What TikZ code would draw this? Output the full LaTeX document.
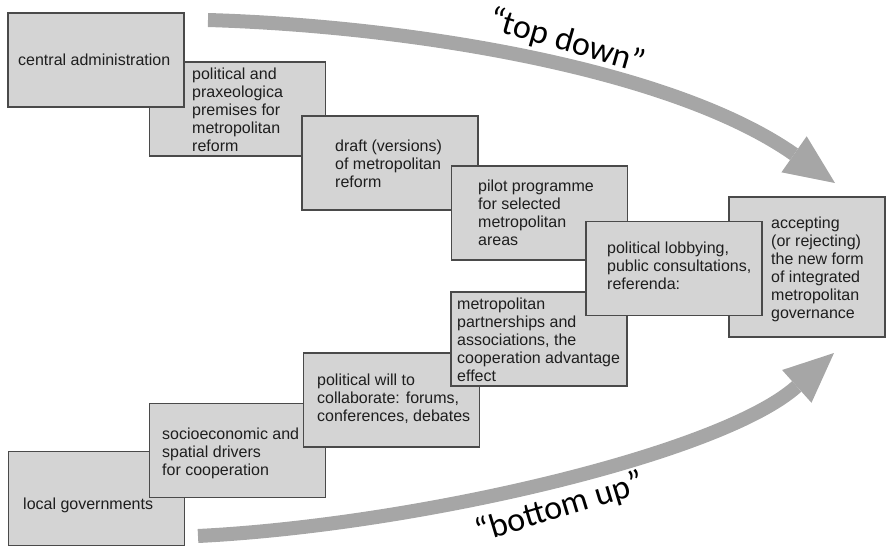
\documentclass[tikz,border=0pt]{standalone}
\usepackage{fontspec}
\setmainfont{Liberation Sans}
\newfontfamily\bigfont{Carlito}
\usetikzlibrary{arrows.meta}
\definecolor{boxfill}{HTML}{D4D4D4}
\definecolor{boxline}{HTML}{4A4A4A}
\definecolor{bandgray}{HTML}{A6A6A6}
\definecolor{txtcol}{HTML}{1E1E1E}
\tikzset{
  stepbox/.style={draw=boxline, fill=boxfill, line width=1.2pt, inner sep=0pt,
    minimum width=176pt, minimum height=94pt},
  txt/.style={anchor=west, align=left, inner sep=0pt, text=txtcol,
    font=\fontsize{16pt}{18pt}\selectfont},
  bigtxt/.style={inner sep=0pt, text=black, font=\bigfont\fontsize{34pt}{36pt}\selectfont},
  band/.style={draw=bandgray, line width=14pt,
    -{Triangle[length=50pt,width=44pt,line width=0pt]}, bandgray}
}
\begin{document}
\begin{tikzpicture}[x=1pt,y=-1pt]
\useasboundingbox (0,0) rectangle (887,546);

% top-down chain
\node[stepbox] (b2) at (237.5,109) {};
\node[txt] (t2) at (192,110) {political and\\praxeologica\\premises for\\metropolitan\\reform};
\node[stepbox] (b1) at (96,60) {};
\node[txt] (t1) at (18,60) {central administration};
\node[stepbox] (b3) at (390,163) {};
\node[txt] (t3) at (335,164) {draft (versions)\\of metropolitan\\reform};
\node[stepbox] (b4) at (539.5,213) {};
\node[txt] (t4) at (478,212.5) {pilot programme\\for selected\\metropolitan\\areas};

% bottom-up chain
\node[stepbox] (b10) at (96.5,498.5) {};
\node[txt] (t10) at (23,505) {local governments};
\node[stepbox] (b9) at (237.5,450.5) {};
\node[txt] (t9) at (162,453) {socioeconomic and\\spatial drivers\\for cooperation};
\node[stepbox] (b8) at (391.5,400) {};
\node[txt] (t8) at (317,398.5) {political will to\\collaborate: forums,\\conferences, debates};
\node[stepbox] (b7) at (539,339) {};
\node[txt] (t7) at (457,339.5) {metropolitan\\partnerships and\\associations, the\\cooperation advantage\\effect};

% goal
\node[stepbox, minimum width=156pt, minimum height=140pt] (b6) at (807,267) {};
\node[txt] (t6) at (771,269) {accepting\\(or rejecting)\\the new form\\of integrated\\metropolitan\\governance};
\node[stepbox] (b5) at (674,268.5) {};
\node[txt] (t5) at (607,266) {political lobbying,\\public consultations,\\referenda:};

% arrows
\coordinate (tdS) at (208,20);
\coordinate (tdE) at (835,183);
\draw[band] (tdS) .. controls (408,26) and (671,68) .. (tdE);
\coordinate (buS) at (198,536);
\coordinate (buE) at (834,353);
\draw[band] (buS) .. controls (418,525) and (722,453.5) .. (buE);

\node[bigtxt, rotate=-16] (td) at (567,42) {“top down”};
\node[bigtxt, rotate=17] (bu) at (560,508) {“bottom up”};
\end{tikzpicture}
\end{document}
